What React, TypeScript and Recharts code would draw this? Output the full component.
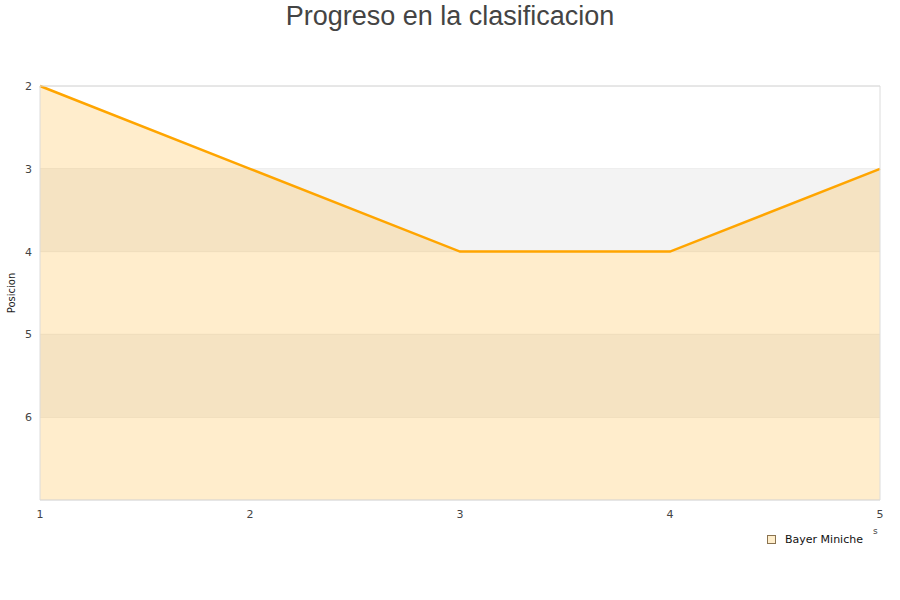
import React from "react"
import {
  Area,
  AreaChart,
  CartesianGrid,
  ReferenceArea,
  XAxis,
  YAxis,
} from "recharts"

const rounds = [1, 2, 3, 4, 5]
const positions = [2, 3, 4, 4, 3]
const yTicks = [2, 3, 4, 5, 6]
const shadedBands = [
  [3, 4],
  [5, 6],
]
const seriesName = "Bayer Miniche"
const chartTitle = "Progreso en la clasificacion"

const data = rounds.map((round, i) => ({ round, position: positions[i] }))

const axisFont = "DejaVu Sans, sans-serif"

export default function App() {
  return (
    <div style={{ position: "fixed", left: 0, top: 0, width: 900, height: 600, background: "#fff" }}>
      <div
        style={{
          position: "absolute",
          left: 0,
          top: 0,
          width: 900,
          textAlign: "center",
          fontFamily: "Liberation Sans, Arial, sans-serif",
          fontSize: 27,
          lineHeight: "32px",
          color: "#444",
        }}
      >
        {chartTitle}
      </div>

      <AreaChart
        width={900}
        height={600}
        data={data}
        margin={{ top: 86, right: 20, bottom: 70, left: 0 }}
      >
        {shadedBands.map(([a, b]) => (
          <ReferenceArea key={a} y1={a} y2={b} fill="#f3f3f3" fillOpacity={1} stroke="none" />
        ))}
        <CartesianGrid vertical={false} stroke="#e4e4e4" />
        <XAxis
          dataKey="round"
          type="number"
          domain={[1, 5]}
          ticks={rounds}
          axisLine={false}
          tickLine={false}
          height={30}
          tickMargin={4}
          tick={{ fontSize: 11, fill: "#444", fontFamily: axisFont }}
        />
        <YAxis
          type="number"
          domain={[2, 7]}
          ticks={yTicks}
          reversed
          width={40}
          axisLine={false}
          tickLine={false}
          tickMargin={2}
          tick={{ fontSize: 11, fill: "#444", fontFamily: axisFont }}
          label={{
            value: "Posicion",
            angle: -90,
            position: "insideLeft",
            offset: 11,
            style: { fontSize: 10, fill: "#222", fontFamily: axisFont, textAnchor: "middle" },
          }}
        />
        <Area
          type="linear"
          dataKey="position"
          name={seriesName}
          baseValue={7}
          stroke="#ffa500"
          strokeWidth={2.5}
          fill="#ffa500"
          fillOpacity={0.2}
          dot={false}
          activeDot={false}
          isAnimationActive={false}
        />
        <ReferenceArea x1={1} x2={5} y1={2} y2={7} fill="none" stroke="#dcdcdc" strokeWidth={1} />
      </AreaChart>

      <div
        style={{
          position: "absolute",
          left: 873,
          top: 526,
          fontSize: 9,
          fontFamily: axisFont,
          color: "#444",
        }}
      >
        s
      </div>

      <div
        style={{
          position: "absolute",
          left: 767,
          top: 533,
          display: "flex",
          alignItems: "center",
          fontFamily: axisFont,
          fontSize: 11,
          color: "#111",
        }}
      >
        <span
          style={{
            display: "inline-block",
            width: 7,
            height: 7,
            background: "#ffeecc",
            border: "1px solid #8a7350",
            marginRight: 9,
          }}
        />
        {seriesName}
      </div>
    </div>
  )
}
